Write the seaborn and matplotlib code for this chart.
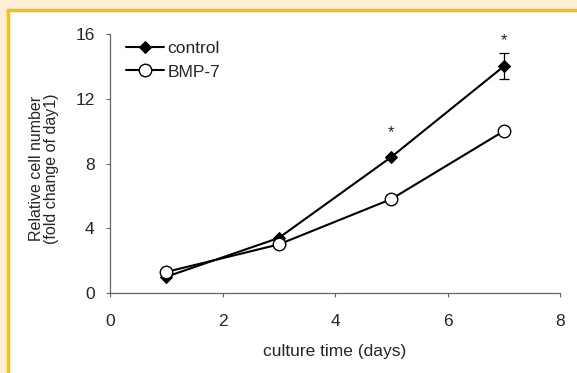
import matplotlib
matplotlib.use("Agg")
import matplotlib.pyplot as plt
import seaborn as sns
import pandas as pd
from matplotlib.patches import Rectangle

days = [1, 3, 5, 7]
control = [1.0, 3.4, 8.4, 14.0]
control_err = [0.0, 0.0, 0.0, 0.8]
bmp7 = [1.3, 3.0, 5.8, 10.0]
star_days = [5, 7]
star_y = [9.9, 15.6]
xticks = [0, 2, 4, 6, 8]
yticks = [0, 4, 8, 12, 16]

sns.set_style("ticks")
plt.rcParams['font.family'] = ['Liberation Sans', 'DejaVu Sans']

fig = plt.figure(figsize=(5.77, 3.73), dpi=100)
fig.patch.set_facecolor('#FDEFD3')
fig.patches.append(Rectangle((7.5/577, -0.1), 1.2, 1 - 10/373 + 0.1, transform=fig.transFigure,
                             facecolor='white', edgecolor='#F5BE1E', linewidth=2.5, zorder=-5))

ax = fig.add_axes([110/577, 1 - 293/373, 450/577, 259/373])
ax.set_zorder(2)
ax.set_facecolor('none')

df = pd.DataFrame({'day': days * 2, 'val': control + bmp7,
                   'group': ['control'] * 4 + ['BMP-7'] * 4})

sns.lineplot(data=df[df.group == 'control'], x='day', y='val', ax=ax, color='black',
             marker='D', markersize=6, markerfacecolor='black', markeredgecolor='black',
             linewidth=1.5, label='control', zorder=3)
sns.lineplot(data=df[df.group == 'BMP-7'], x='day', y='val', ax=ax, color='black',
             marker='o', markersize=9, markerfacecolor='white', markeredgecolor='black',
             markeredgewidth=1.0, linewidth=1.5, label='BMP-7', zorder=4)
ax.errorbar(days, control, yerr=control_err, fmt='none', ecolor='black', elinewidth=0.9,
            capsize=3.5, capthick=0.9, zorder=2)
for d, s in zip(star_days, star_y):
    ax.text(d, s, '*', ha='center', va='center', fontsize=12)

ax.set_xlim(0, 8)
ax.set_ylim(0, 16)
ax.set_xticks(xticks)
ax.set_yticks(yticks)
ax.tick_params(direction='out', length=3, width=0.8, color='#666666', labelsize=12.5, pad=8)
ax.tick_params(axis='x', pad=12)
for sp in ['top', 'right']:
    ax.spines[sp].set_visible(False)
for sp in ['left', 'bottom']:
    ax.spines[sp].set_color('#666666')
    ax.spines[sp].set_linewidth(0.9)
ax.set_xlabel('culture time (days)', fontsize=12.5, labelpad=11)
ax.set_ylabel('Relative cell number\n(fold change of day1)', fontsize=11.5,
              linespacing=0.95)
ax.yaxis.set_label_coords(-0.114, 0.48)

leg = ax.legend(loc='upper left', bbox_to_anchor=(0.0, 1.035), frameon=False, fontsize=12.5,
                handlelength=2.2, handletextpad=0.2, labelspacing=0.5)

fig.savefig('out.png', dpi=100, facecolor=fig.get_facecolor())
